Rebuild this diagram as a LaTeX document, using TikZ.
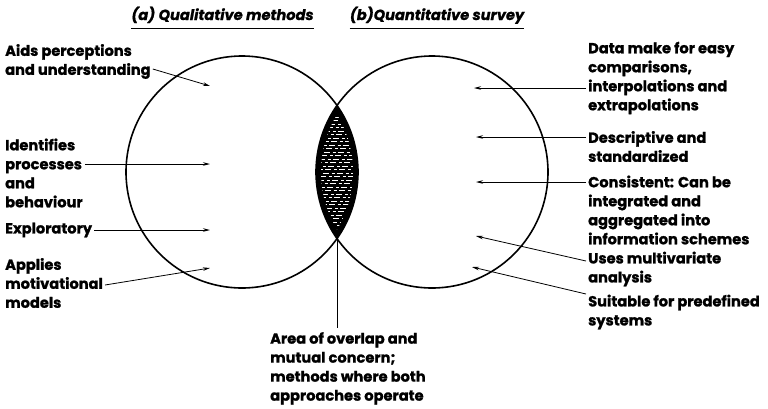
\documentclass[tikz,border=0pt]{standalone}
\usepackage{fontspec}
\setmainfont{Poppins}[FakeBold=1.2]
\usetikzlibrary{arrows.meta}

\tikzset{
  lbl/.style={anchor=west, align=left, inner sep=0pt, font=\fontsize{14.6}{19}\selectfont\bfseries},
  heading/.style={anchor=base, inner sep=0pt, font=\fontsize{14.6}{19}\selectfont\bfseries\itshape},
  ptr/.style={line width=0.8pt, -{Stealth[length=7pt,width=3.5pt]}},
  ring/.style={line width=1.6pt},
}

\begin{document}
\begin{tikzpicture}[x=1pt,y=-1pt]
\useasboundingbox (0,0) rectangle (768,408);

% headings
\node[heading] (ta) at (222.5,20) {(a) Qualitative methods};
\node[heading] (tb) at (437,20) {(b)Quantitative survey};
\draw[line width=0.8pt] ([yshift=-8pt]ta.base west) -- ([yshift=-8pt]ta.base east);
\draw[line width=0.8pt] ([yshift=-8pt]tb.base west) -- ([yshift=-8pt]tb.base east);

% circles and shaded overlap
\coordinate (qual) at (242,172);
\coordinate (quant) at (432,172);
\coordinate (lo) at (337,238.6);
\begin{scope}
\clip (qual) circle[radius=116pt];
\fill (quant) circle[radius=116pt];
\end{scope}
\begin{scope}
\clip (qual) circle[radius=111pt];
\clip (quant) circle[radius=111pt];
\foreach \y in {110,113.5,...,234}
  \draw[white, line width=0.5pt, dash pattern=on 6pt off 3pt on 3pt off 2pt, dash phase=\y*0.7pt] (318,\y) -- (356,\y);
\end{scope}
\draw[ring] (qual) circle[radius=116pt];
\draw[ring] (quant) circle[radius=116pt];

% left labels
\node[lbl] (aids) at (5,61.5) {Aids perceptions\\and understanding};
\node[lbl] (ident) at (5,173) {Identifies\\processes\\and\\behaviour};
\node[lbl] (expl) at (5,230) {Exploratory};
\node[lbl] (appl) at (5,283) {Applies\\motivational\\models};

% right labels
\node[lbl] (data) at (588,78) {Data make for easy\\comparisons,\\interpolations and\\extrapolations};
\node[lbl] (desc) at (588,146.5) {Descriptive and\\standardized};
\node[lbl] (cons) at (588,210) {Consistent: Can be\\integrated and\\aggregated into\\information schemes};
\node[lbl] (uses) at (588,269) {Uses multivariate\\analysis};
\node[lbl] (suit) at (588,312) {Suitable for predefined\\systems};

% overlap label
\node[lbl, anchor=north west] (area) at (270,332) {Area of overlap and\\mutual concern;\\methods where both\\approaches operate};

% pointers
\coordinate (t1) at (210,86);
\coordinate (t2) at (210,164);
\coordinate (t3) at (210,230);
\coordinate (t4) at (210,268);
\coordinate (t5) at (474,88);
\coordinate (t6) at (476,137);
\coordinate (t7) at (476,182);
\coordinate (t8) at (476,236);
\coordinate (t9) at (472,267);
\draw[ptr] ([xshift=2pt,yshift=-7.5pt]aids.east) -- (t1);
\draw[ptr] ([xshift=2pt]ident.east |- t2) -- (t2);
\draw[ptr] ([xshift=2pt]expl.east) -- (t3);
\draw[ptr] ([xshift=2pt,yshift=-2pt]appl.east) -- (t4);
\draw[ptr] ([xshift=-2pt]data.west |- t5) -- (t5);
\draw[ptr] ([xshift=-2pt]desc.west |- t6) -- (t6);
\draw[ptr] ([xshift=-2pt]cons.west |- t7) -- (t7);
\draw[ptr] ([xshift=-2pt,yshift=8pt]uses.west) -- (t8);
\draw[ptr] ([xshift=-2pt,yshift=18pt]suit.west) -- (t9);
\draw[line width=0.8pt, shorten >=4pt] (lo) -- (lo |- area.north);
\end{tikzpicture}
\end{document}
